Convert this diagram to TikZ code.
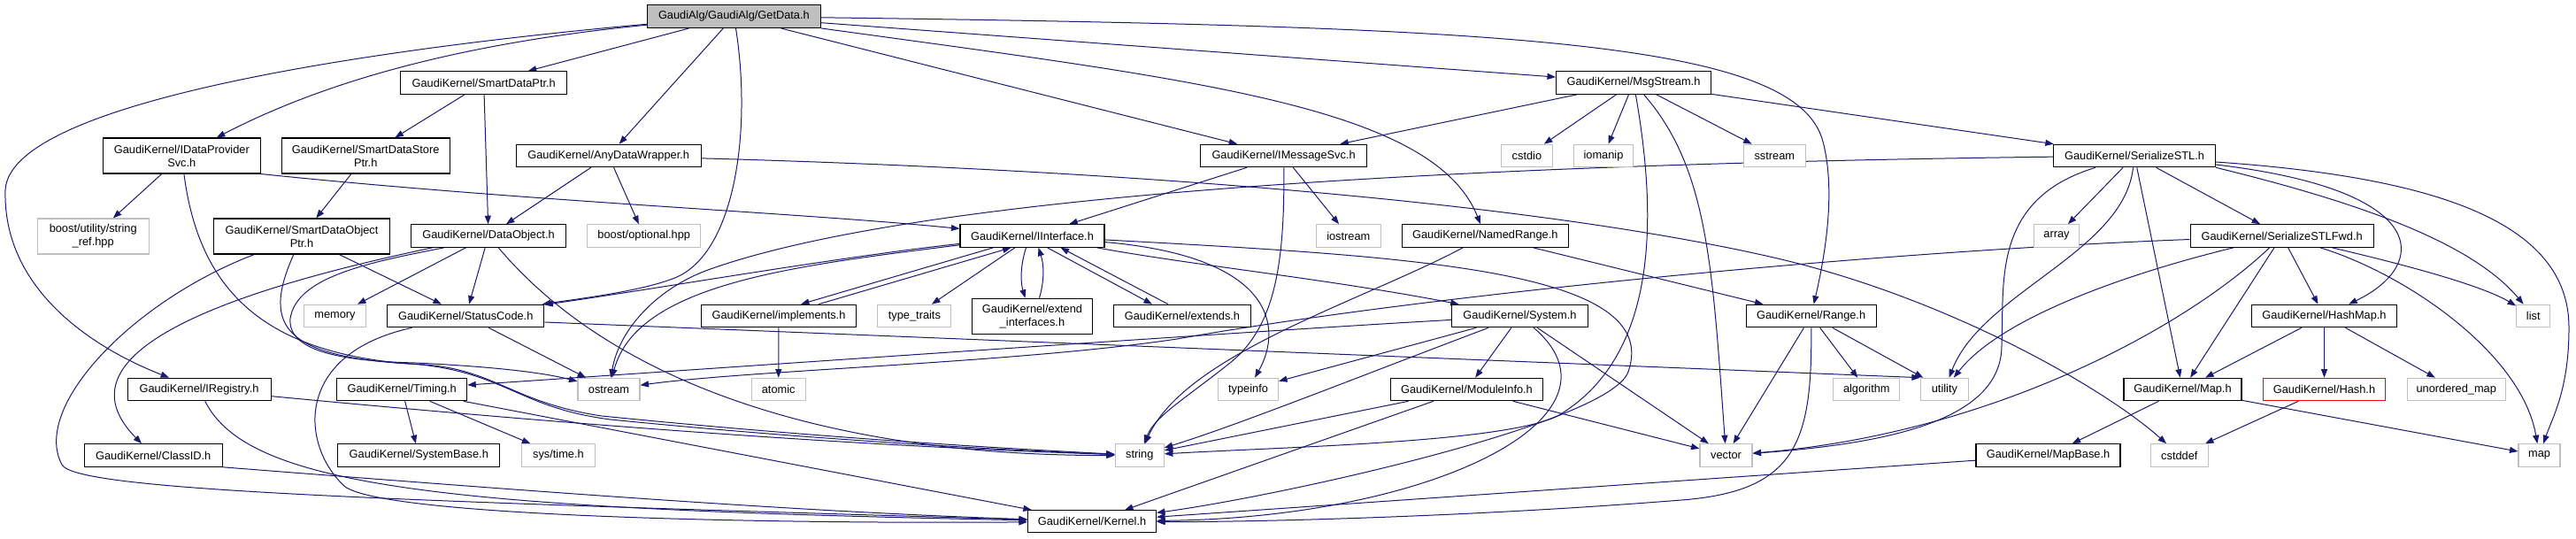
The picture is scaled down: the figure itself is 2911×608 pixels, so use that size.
\documentclass[tikz,border=0pt]{standalone}
\usepackage{fontspec}
\setmainfont{Liberation Sans}
\usetikzlibrary{arrows.meta}
\definecolor{edgeblue}{HTML}{191970}
\definecolor{greyb}{HTML}{BFBFBF}
\pgfdeclarelayer{edgelayer}
\pgfsetlayers{edgelayer,main}
\tikzset{
  nbox/.style={draw=black, line width=1.1pt, fill=white, inner sep=0pt, minimum height=25.5pt, align=center, font=\fontsize{12.8}{15}\selectfont, text=black},
  sbox/.style={nbox, draw=greyb},
  rbox/.style={nbox, fill=greyb},
  xbox/.style={nbox, draw=red},
  twoline/.style={minimum height=40pt},
  edg/.style={draw=edgeblue, line width=1pt, -{Triangle[length=9.5pt,width=7pt]}},
}
\begin{document}
\begin{tikzpicture}[x=1pt,y=-1pt]
\useasboundingbox (0,0) rectangle (2911,608);
% nodes
\node[rbox,minimum width=196pt,minimum height=26pt] (root) at (829.4,18.5) {GaudiAlg/GaudiAlg/GetData.h};
\node[nbox,minimum width=188pt] (sdp) at (546.7,93.5) {GaudiKernel/SmartDataPtr.h};
\node[nbox,minimum width=175pt] (msg) at (1846,93.5) {GaudiKernel/MsgStream.h};
\node[nbox,twoline,minimum width=178pt] (idp) at (205.3,176) {GaudiKernel/IDataProvider\\Svc.h};
\node[nbox,twoline,minimum width=190pt] (sdsp) at (413.2,176) {GaudiKernel/SmartDataStore\\Ptr.h};
\node[nbox,minimum width=209pt] (adw) at (687.7,176) {GaudiKernel/AnyDataWrapper.h};
\node[nbox,minimum width=188pt] (ims) at (1450.6,176) {GaudiKernel/IMessageSvc.h};
\node[sbox,minimum width=58pt] (cstdio) at (1725.4,176) {cstdio};
\node[sbox,minimum width=67pt] (iomanip) at (1812,176) {iomanip};
\node[sbox,minimum width=70pt] (sstream) at (2005.3,176) {sstream};
\node[nbox,minimum width=183pt] (sstl) at (2412,176) {GaudiKernel/SerializeSTL.h};
\node[sbox,twoline,minimum width=126pt] (sref) at (105.2,267) {boost/utility/string\\\_ref.hpp};
\node[nbox,twoline,minimum width=199pt] (sdop) at (341,267) {GaudiKernel/SmartDataObject\\Ptr.h};
\node[nbox,minimum width=175pt] (dob) at (552,266.5) {GaudiKernel/DataObject.h};
\node[sbox,minimum width=128pt] (bopt) at (727.7,266.5) {boost/optional.hpp};
\node[nbox,minimum width=163pt] (iif) at (1166.5,266.5) {GaudiKernel/IInterface.h};
\node[sbox,minimum width=72.6pt] (ios) at (1523.8,266.5) {iostream};
\node[nbox,minimum width=188pt] (nr) at (1678.3,266.5) {GaudiKernel/NamedRange.h};
\node[sbox,minimum width=51pt] (array) at (2324,266.5) {array};
\node[nbox,minimum width=207pt] (sfwd) at (2578.6,266.5) {GaudiKernel/SerializeSTLFwd.h};
\node[sbox,minimum width=70pt] (memory) at (378.5,357) {memory};
\node[nbox,minimum width=177pt] (sc) at (526.3,357) {GaudiKernel/StatusCode.h};
\node[nbox,minimum width=175pt] (impl) at (880,357) {GaudiKernel/implements.h};
\node[sbox,minimum width=83pt] (tt) at (1033.4,357) {type\_traits};
\node[nbox,twoline,minimum width=136pt] (ext_if) at (1166.5,357.3) {GaudiKernel/extend\\\_interfaces.h};
\node[nbox,minimum width=155pt] (ext) at (1336,357) {GaudiKernel/extends.h};
\node[nbox,minimum width=154pt] (sys) at (1717.5,357) {GaudiKernel/System.h};
\node[nbox,minimum width=147pt] (rng) at (2046.6,357) {GaudiKernel/Range.h};
\node[nbox,minimum width=164pt] (hm) at (2626.5,357) {GaudiKernel/HashMap.h};
\node[sbox,minimum width=38pt] (list) at (2862.7,357) {list};
\node[nbox,minimum width=162pt] (ireg) at (225.1,440) {GaudiKernel/IRegistry.h};
\node[nbox,minimum width=147pt] (tim) at (454.2,440) {GaudiKernel/Timing.h};
\node[sbox,minimum width=70pt] (ostream) at (688,440) {ostream};
\node[sbox,minimum width=61pt] (atomic) at (879.7,440) {atomic};
\node[sbox,minimum width=68pt] (typeinfo) at (1410.5,440) {typeinfo};
\node[nbox,minimum width=172pt] (mi) at (1657.5,440) {GaudiKernel/ModuleInfo.h};
\node[sbox,minimum width=75pt] (algorithm) at (2109.3,440) {algorithm};
\node[sbox,minimum width=54pt] (utility) at (2197.4,440) {utility};
\node[nbox,minimum width=133pt] (map_h) at (2466.5,440) {GaudiKernel/Map.h};
\node[xbox,minimum width=138pt] (hash) at (2626.5,440) {GaudiKernel/Hash.h};
\node[sbox,minimum width=111pt] (umap) at (2775.7,440) {unordered\_map};
\node[nbox,minimum width=156pt] (cid) at (173.2,514.5) {GaudiKernel/ClassID.h};
\node[nbox,minimum width=183pt] (sb) at (473.3,514.5) {GaudiKernel/SystemBase.h};
\node[sbox,minimum width=83pt] (systime) at (630.9,514.5) {sys/time.h};
\node[sbox,minimum width=55pt] (string) at (1287.8,514.5) {string};
\node[sbox,minimum width=59pt] (vector) at (1950.5,514.5) {vector};
\node[nbox,minimum width=163pt] (mb) at (2314.5,514.5) {GaudiKernel/MapBase.h};
\node[sbox,minimum width=65pt] (cstddef) at (2462.8,514.5) {cstddef};
\node[sbox,minimum width=47pt] (map) at (2869.5,514.5) {map};
\node[nbox,minimum width=145pt,minimum height=25pt] (kern) at (1234,589.2) {GaudiKernel/Kernel.h};
% edges
\begin{pgfonlayer}{edgelayer}
\fill[white] (0,0) rectangle (2911,608);
% GetData
\draw[edg] (root) -- (sdp);
\draw[edg] (root) .. controls (560,45) and (390,80) .. (idp);
\draw[edg] (root) .. controls (420,55) and (10,115) .. (6,215) .. controls (3,330) and (110,395) .. (ireg);
\draw[edg] (root) -- (adw);
\draw[edg] (root) .. controls (850,150) and (830,290) .. (760,315) .. controls (720,330) and (650,338) .. (sc);
\draw[edg] (root) -- (ims);
\draw[edg] (root) -- (msg);
\draw[edg] (root) .. controls (1350,90) and (1620,120) .. (nr);
\draw[edg] (root) .. controls (1700,30) and (2030,45) .. (2060,160) .. controls (2075,217) and (2062,290) .. (rng);
% SmartDataPtr, SmartDataStorePtr, IDataProviderSvc
\draw[edg] (sdp) -- (sdsp);
\draw[edg] (sdp) -- (dob);
\draw[edg] (sdsp) -- (sdop);
\draw[edg] (idp) -- (sref);
\draw[edg] (idp.south east) .. controls (600,228) and (900,240) .. (iif);
\draw[edg] (idp) .. controls (225,330) and (300,395) .. (450,410) .. controls (570,416) and (580,460) .. (690,474) .. controls (900,495) and (1100,507) .. (string);
% SmartDataObjectPtr
\draw[edg] (sdop) -- (sc);
\draw[edg] (sdop) .. controls (295,370) and (320,405) .. (480,412) .. controls (560,418) and (580,455) .. (680,470) .. controls (900,492) and (1100,505) .. (string);
\draw[edg] (sdop) .. controls (150,340) and (35,460) .. (70,525) .. controls (85,553) and (400,565) .. (kern);
% DataObject
\draw[edg] (dob) -- (memory);
\draw[edg] (dob) -- (sc);
\draw[edg] (dob) .. controls (690,430) and (930,515) .. (string);
\draw[edg] (dob) .. controls (250,330) and (60,400) .. (cid);
\draw[edg] ([xshift=-50pt]dob.south) .. controls (420,296) and (335,312) .. (328,360) .. controls (325,395) and (380,408) .. (470,410) .. controls (550,414) and (610,420) .. (ostream);
% AnyDataWrapper
\draw[edg] (adw) -- (dob);
\draw[edg] (adw) -- (bopt);
\draw[edg] (adw) .. controls (1200,190) and (1700,222) .. (2000,290) .. controls (2200,335) and (2380,440) .. (cstddef);
% IMessageSvc
\draw[edg] (ims) -- (iif);
\draw[edg] (ims) -- (ios);
\draw[edg] (ims) .. controls (1452,300) and (1440,370) .. (1390,410) .. controls (1340,450) and (1305,470) .. (string);
% MsgStream
\draw[edg] (msg) -- (ims);
\draw[edg] (msg) -- (cstdio);
\draw[edg] (msg) -- (iomanip);
\draw[edg] (msg) -- (sstream);
\draw[edg] (msg) -- (sstl);
\draw[edg] (msg) .. controls (1930,190) and (1935,300) .. (vector);
\draw[edg] (msg) .. controls (1870,230) and (1880,400) .. (1760,470) .. controls (1700,500) and (1450,505) .. (string);
% SerializeSTL
\draw[edg] (sstl) .. controls (1700,185) and (1050,215) .. (800,305) .. controls (745,325) and (700,370) .. (ostream);
\draw[edg] (sstl) -- (array);
\draw[edg] (sstl) .. controls (2400,285) and (2240,330) .. (utility);
\draw[edg] (sstl) .. controls (2250,225) and (2265,320) .. (2262,390) .. controls (2262,470) and (2150,500) .. (vector);
\draw[edg] (sstl) -- (map_h);
\draw[edg] (sstl) -- (sfwd);
\draw[edg] ([yshift=-10pt]sstl.east) .. controls (2750,215) and (2745,300) .. (hm);
\draw[edg] (sstl.south east) .. controls (2650,225) and (2790,270) .. (list);
\draw[edg] ([yshift=-7pt]sstl.east) .. controls (2750,200) and (2903,250) .. (2903,370) .. controls (2903,440) and (2885,470) .. (map);
% SerializeSTLFwd
\draw[edg] (sfwd) .. controls (2100,285) and (1600,335) .. (1330,383) .. controls (1150,410) and (850,418) .. (ostream);
\draw[edg] (sfwd) .. controls (2400,310) and (2260,360) .. (utility);
\draw[edg] (sfwd) .. controls (2470,370) and (2250,490) .. (vector);
\draw[edg] (sfwd) -- (map_h);
\draw[edg] (sfwd) -- (hm);
\draw[edg] (sfwd) .. controls (2720,310) and (2850,400) .. (map);
\draw[edg] (sfwd) .. controls (2700,295) and (2800,320) .. (list);
% Range, NamedRange
\draw[edg] (rng) -- (vector);
\draw[edg] (rng) .. controls (2048,500) and (2030,555) .. (1900,565) .. controls (1650,585) and (1400,590) .. (kern);
\draw[edg] (rng) -- (algorithm);
\draw[edg] (rng) -- (utility);
\draw[edg] (nr) -- (rng);
\draw[edg] (nr) .. controls (1540,340) and (1340,400) .. (string);
% IInterface
\draw[edg] (iif) .. controls (950,290) and (750,325) .. (sc);
\draw[edg] (iif) .. controls (900,300) and (720,320) .. (ostream);
\draw[edg] ([xshift=-44pt]iif.south) -- ([xshift=25pt]impl.north);
\draw[edg] ([xshift=45pt]impl.north) -- ([xshift=-24pt]iif.south);
\draw[edg] (iif) -- (tt);
\draw[edg] ([xshift=-7pt]iif.south) .. controls (1153,300) and (1153,318) .. ([xshift=-8pt]ext_if.north);
\draw[edg] ([xshift=8pt]ext_if.north) .. controls (1180,318) and (1180,300) .. ([xshift=7pt]iif.south);
\draw[edg] ([xshift=17pt]iif.south) -- ([xshift=-34pt]ext.north);
\draw[edg] ([xshift=-16pt]ext.north) -- ([xshift=32pt]iif.south);
\draw[edg] (iif) .. controls (1350,300) and (1500,315) .. (sys);
\draw[edg] (iif) .. controls (1440,290) and (1450,370) .. (typeinfo);
\draw[edg] (iif) .. controls (1600,290) and (1880,305) .. (1840,420) .. controls (1820,478) and (1450,560) .. (kern);
% System
\draw[edg] (sys) .. controls (1400,375) and (900,410) .. (tim);
\draw[edg] (sys) -- (typeinfo);
\draw[edg] (sys) .. controls (1550,420) and (1400,480) .. (string);
\draw[edg] (sys) -- (mi);
\draw[edg] (sys) -- (vector);
\draw[edg] (sys) .. controls (1850,470) and (1620,585) .. (kern);
% ModuleInfo
\draw[edg] (mi) -- (string);
\draw[edg] (mi) -- (kern);
\draw[edg] (mi) -- (vector);
% StatusCode
\draw[edg] (sc) -- (ostream);
\draw[edg] ([yshift=-7pt]sc.east) -- (utility.north west);
\draw[edg] (sc) .. controls (330,400) and (340,505) .. (390,550) .. controls (440,585) and (900,592) .. (kern);
% IRegistry, ClassID, Timing
\draw[edg] (ireg) .. controls (700,485) and (1000,505) .. (string);
\draw[edg] (ireg) .. controls (280,550) and (500,575) .. (kern);
\draw[edg] (cid.south east) .. controls (600,555) and (900,578) .. (kern);
\draw[edg] (tim) -- (sb);
\draw[edg] (tim) -- (systime);
\draw[edg] (tim) -- (kern);
% others
\draw[edg] (impl) -- (atomic);
\draw[edg] (hm) -- (map_h);
\draw[edg] (hm) -- (hash);
\draw[edg] (hm) -- (umap);
\draw[edg] (hash) -- (cstddef);
\draw[edg] (map_h) -- (mb);
\draw[edg] (map_h) -- (map);
\draw[edg] (mb) -- (kern);
\end{pgfonlayer}
\end{tikzpicture}
\end{document}
